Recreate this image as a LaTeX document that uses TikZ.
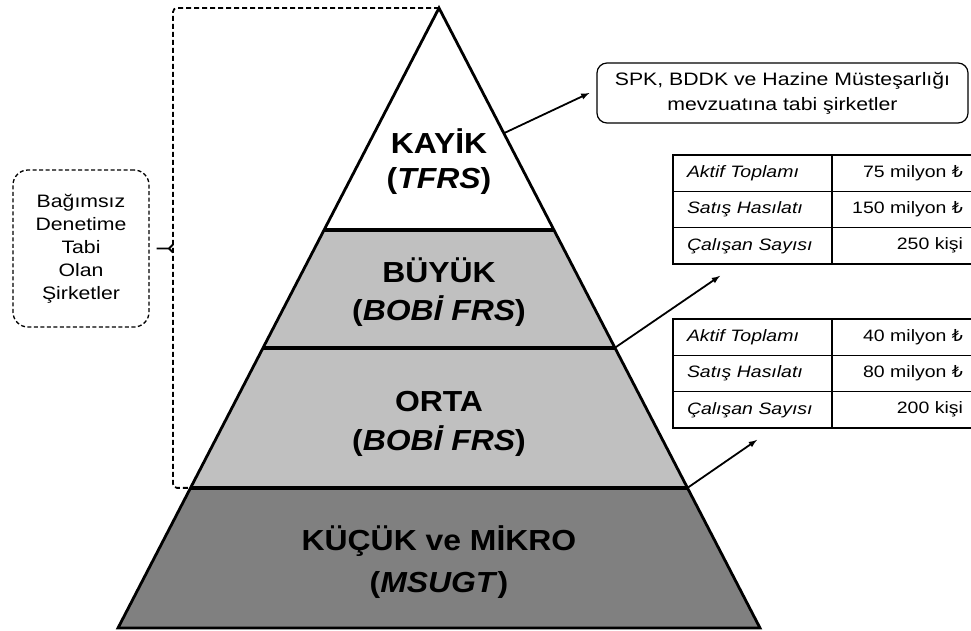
\documentclass[tikz,border=0pt]{standalone}
\usepackage{fontspec}
\setmainfont{Liberation Sans}[FakeStretch=1.18]
\newfontfamily\labelfont{Liberation Sans}[FakeStretch=1.1]
\newfontfamily\lirafont{DejaVu Sans}[FakeStretch=1.05]
\usetikzlibrary{calc}
\usetikzlibrary{positioning}

\definecolor{midgray}{RGB}{192,192,192}
\definecolor{darkgray}{RGB}{128,128,128}
\newcommand{\lira}{{\lirafont ₺}}

\tikzset{
	outline/.style={line width=2.8pt, line join=miter},
	divider/.style={line width=3.6pt},
	layerlabel/.style={font=\labelfont\fontsize{29}{35}\selectfont\bfseries, anchor=base, inner sep=0pt},
	pointer/.style={line width=1.8pt, -latex},
	bracket/.style={line width=1.8pt, dash pattern=on 5pt off 3pt, rounded corners=4pt},
	notebox/.style={draw, line width=1.3pt, dash pattern=on 4pt off 2.5pt, rounded corners=15pt,
		minimum width=136pt, minimum height=157pt, align=center, font=\fontsize{18}{23}\selectfont},
	lawbox/.style={draw, line width=1.2pt, rounded corners=10pt, minimum width=371pt,
		minimum height=60pt, align=center, font=\fontsize{18}{25}\selectfont},
	namecell/.style={draw, line width=1.2pt, outer sep=0pt, inner xsep=14pt, inner ysep=0pt,
		text width=131pt, minimum height=36.3pt, align=left, font=\fontsize{16.5}{20}\selectfont\itshape},
	valcell/.style={draw, line width=1.2pt, outer sep=0pt, inner xsep=14pt, inner ysep=0pt,
		text width=117pt, minimum height=36.3pt, align=right, font=\fontsize{16.5}{20}\selectfont}
}

\begin{document}
\begin{tikzpicture}[x=1pt, y=-1pt]
	\useasboundingbox (0,0) rectangle (971,630);

	\coordinate(a) at (439, 8);
	\coordinate(b) at (118, 628);
	\coordinate(c) at (760, 628);

	% layer edges
	\coordinate(d1) at ($(a)!0.358!(b)$);
	\coordinate(e1) at ($(a)!0.358!(c)$);
	\coordinate(d2) at ($(a)!0.548!(b)$);
	\coordinate(e2) at ($(a)!0.548!(c)$);
	\coordinate(d3) at ($(a)!0.774!(b)$);
	\coordinate(e3) at ($(a)!0.774!(c)$);
	\coordinate(p1) at ($(a)!0.202!(c)$);

	\fill[white] (a)--(d1)--(e1)--cycle;
	\fill[midgray] (d1)--(d3)--(e3)--(e1)--cycle;
	\fill[darkgray] (d3)--(b)--(c)--(e3)--cycle;
	\draw[divider] (d1)--(e1);
	\draw[divider] (d2)--(e2);
	\draw[divider] (d3)--(e3);
	\draw[outline] (a)--(b)--(c)--cycle;

	\node[layerlabel] (kayik) at (439,153) {KAYİK};
	\node[layerlabel] (kayikstd) at (439,188) {(\textit{TFRS})};
	\node[layerlabel] (buyuk) at (439,282) {BÜYÜK};
	\node[layerlabel] (buyukstd) at (439,320) {(\textit{BOBİ FRS})};
	\node[layerlabel] (orta) at (439,411) {ORTA};
	\node[layerlabel] (ortastd) at (439,450) {(\textit{BOBİ FRS})};
	\node[layerlabel] (kucuk) at (439,550) {KÜÇÜK ve MİKRO};
	\node[layerlabel] (kucukstd) at (439,592) {(\textit{MSUGT})};

	% independent audit bracket
	\coordinate(bk) at (173, 248.5);
	\draw[bracket] (a) -| (bk) |- (d3);
	\node[notebox] (audit) at (81, 248.5) {Bağımsız\\Denetime\\Tabi\\Olan\\Şirketler};
	\draw[line width=1.8pt] ([xshift=7pt]audit.east) -- ([xshift=-4pt]bk) -- ++(4,-4);
	\draw[line width=1.8pt] ([xshift=-4pt]bk) -- ++(4,4);

	\node[lawbox] (spk) at (782.5, 93) {SPK, BDDK ve Hazine Müsteşarlığı\\mevzuatına tabi şirketler};

	% thresholds: large
	\node[namecell, anchor=north west] (t1a) at (673,155) {Aktif Toplamı};
	\node[valcell, right=0pt of t1a] (t1av) {75 milyon \lira};
	\node[namecell, below=0pt of t1a] (t1b) {Satış Hasılatı};
	\node[valcell, right=0pt of t1b] (t1bv) {150 milyon \lira};
	\node[namecell, below=0pt of t1b] (t1c) {Çalışan Sayısı};
	\node[valcell, right=0pt of t1c] (t1cv) {250 kişi};

	% thresholds: medium
	\node[namecell, anchor=north west] (t2a) at (673,319) {Aktif Toplamı};
	\node[valcell, right=0pt of t2a] (t2av) {40 milyon \lira};
	\node[namecell, below=0pt of t2a] (t2b) {Satış Hasılatı};
	\node[valcell, right=0pt of t2b] (t2bv) {80 milyon \lira};
	\node[namecell, below=0pt of t2b] (t2c) {Çalışan Sayısı};
	\node[valcell, right=0pt of t2c] (t2cv) {200 kişi};

	\coordinate(q1) at ($(t1c.south west)+(47,12)$);
	\coordinate(q2) at ($(t2c.south west)+(84,12)$);
	\draw[pointer] (p1) -- ([xshift=-7pt]spk.west);
	\draw[pointer] (e2) -- (q1);
	\draw[pointer] (e3) -- (q2);
\end{tikzpicture}
\end{document}
